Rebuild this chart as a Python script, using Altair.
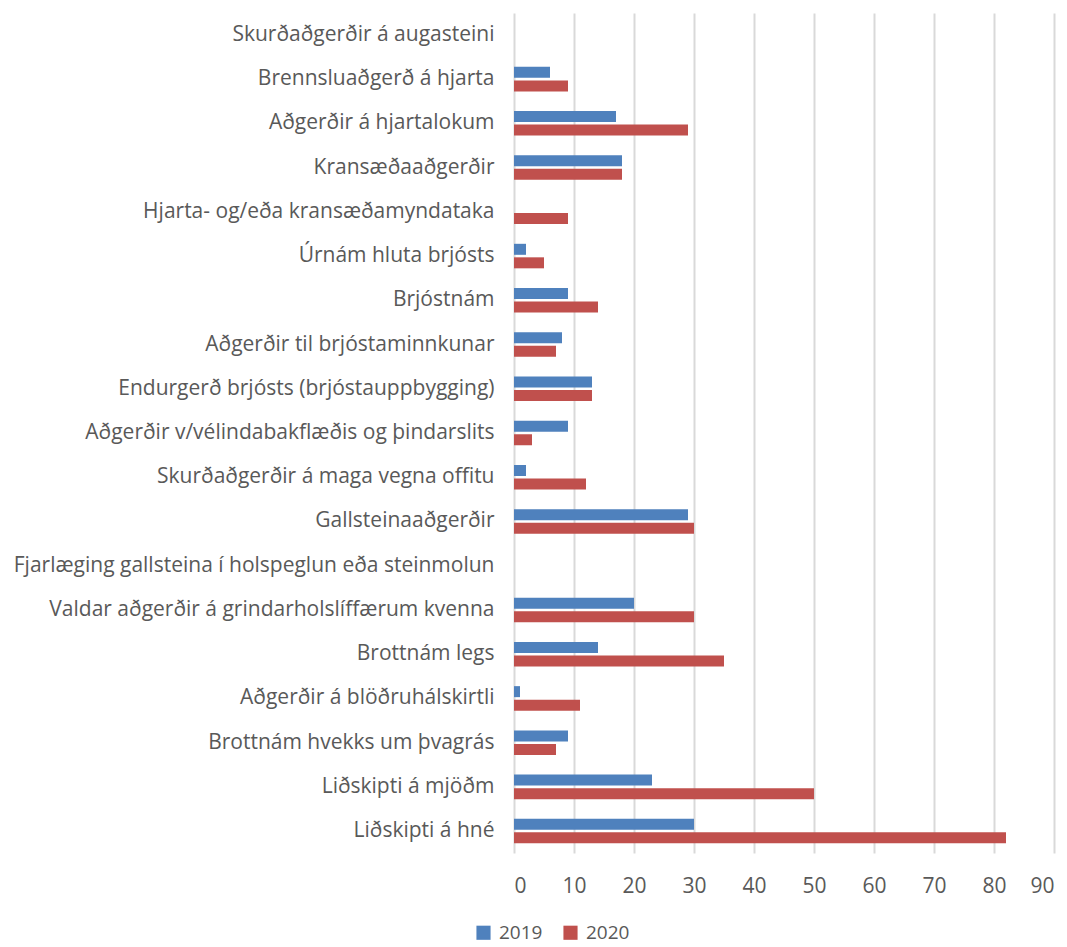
import altair as alt
import pandas as pd

categories = [
    "Skurðaðgerðir á augasteini",
    "Brennsluaðgerð á hjarta",
    "Aðgerðir á hjartalokum",
    "Kransæðaaðgerðir",
    "Hjarta- og/eða kransæðamyndataka",
    "Úrnám hluta brjósts",
    "Brjóstnám",
    "Aðgerðir til brjóstaminnkunar",
    "Endurgerð brjósts (brjóstauppbygging)",
    "Aðgerðir v/vélindabakflæðis og þindarslits",
    "Skurðaðgerðir á maga vegna offitu",
    "Gallsteinaaðgerðir",
    "Fjarlæging gallsteina í holspeglun eða steinmolun",
    "Valdar aðgerðir á grindarholslíffærum kvenna",
    "Brottnám legs",
    "Aðgerðir á blöðruhálskirtli",
    "Brottnám hvekks um þvagrás",
    "Liðskipti á mjöðm",
    "Liðskipti á hné",
]
values_2019 = [0, 6, 17, 18, 0, 2, 9, 8, 13, 9, 2, 29, 0, 20, 14, 1, 9, 23, 30]
values_2020 = [0, 9, 29, 18, 9, 5, 14, 7, 13, 3, 12, 30, 0, 30, 35, 11, 7, 50, 82]
years = ["2019", "2020"]
colors = ["#4F81BD", "#C0504D"]

rows = []
for c, a, b in zip(categories, values_2019, values_2020):
    rows.append({"cat": c, "year": years[0], "value": a})
    rows.append({"cat": c, "year": years[1], "value": b})
df = pd.DataFrame(rows)

FONT = "Open Sans"
FS = 21

chart = alt.Chart(df).mark_bar(size=11).encode(
    y=alt.Y("cat:N", sort=categories, title=None,
            scale=alt.Scale(paddingInner=0.45, paddingOuter=0.22),
            axis=alt.Axis(ticks=False, domain=False, labelFontSize=FS, labelColor="#595959",
                          labelFont=FONT, labelPadding=20, labelLimit=700)),
    yOffset=alt.YOffset("year:N", scale=alt.Scale(paddingInner=0.2, paddingOuter=0.0)),
    x=alt.X("value:Q", title=None,
            scale=alt.Scale(domain=[0, 90], nice=False),
            axis=alt.Axis(values=list(range(0, 91, 10)), grid=True, gridColor="#D9D9D9", gridWidth=2,
                          domain=False, ticks=False, labelFontSize=FS, labelColor="#595959",
                          labelFont=FONT, labelPadding=22)),
    color=alt.Color("year:N", scale=alt.Scale(domain=years, range=colors),
                    legend=alt.Legend(title=None, orient="none", direction="horizontal",
                                      legendX=-40, legendY=910,
                                      symbolType="square", symbolSize=200, symbolStrokeWidth=0,
                                      labelFontSize=19, labelColor="#595959", labelFont=FONT,
                                      labelOffset=6, columnPadding=18)),
).properties(width=540, height=840).configure_view(stroke=None)

chart.save("out.html", embed_options={"renderer": "svg", "actions": False})
